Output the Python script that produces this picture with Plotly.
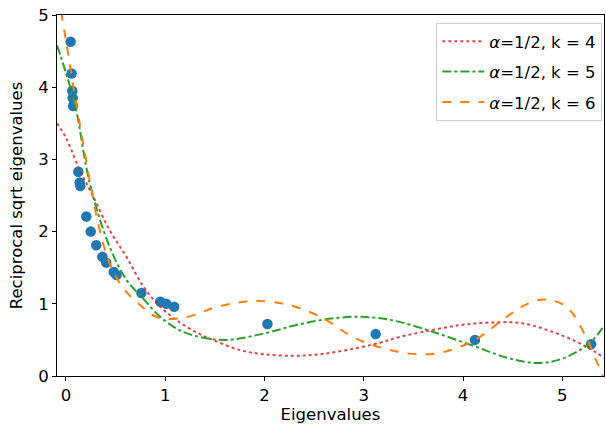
import plotly.graph_objects as go

# Scatter data: eigenvalues and reciprocal sqrt eigenvalues
eig_x = [0.047, 0.057, 0.064, 0.068, 0.072, 0.125, 0.139, 0.145, 0.205, 0.25, 0.305,
         0.367, 0.406, 0.482, 0.51, 0.76, 0.95, 1.01, 1.09, 2.03, 3.12, 4.12, 5.29]
eig_y = [4.63, 4.19, 3.95, 3.85, 3.74, 2.83, 2.68, 2.63, 2.21, 2.00, 1.81,
         1.65, 1.57, 1.44, 1.40, 1.15, 1.03, 1.00, 0.96, 0.72, 0.58, 0.50, 0.44]

# Fitted curves
k4_x = [-0.09, 0.0, 0.14, 0.27, 0.44, 0.61, 0.78, 0.95, 1.15, 1.35, 1.48, 1.75, 2.0, 2.3,
        2.55, 2.83, 3.16, 3.36, 3.7, 4.0, 4.27, 4.6, 5.0, 5.25, 5.42]
k4_y = [3.50, 3.30, 2.85, 2.50, 2.02, 1.65, 1.24, 0.96, 0.74, 0.58, 0.50, 0.36, 0.30, 0.28,
        0.30, 0.36, 0.46, 0.54, 0.64, 0.71, 0.74, 0.73, 0.56, 0.40, 0.25]
k5_x = [-0.09, 0.0, 0.1, 0.24, 0.44, 0.61, 0.78, 0.95, 1.15, 1.35, 1.62, 2.03, 2.3, 2.59,
        2.89, 3.1, 3.33, 3.7, 4.12, 4.45, 4.75, 5.0, 5.28, 5.42]
k5_y = [4.58, 4.20, 3.70, 2.67, 1.79, 1.33, 1.07, 0.82, 0.63, 0.54, 0.50, 0.60, 0.70, 0.78,
        0.82, 0.81, 0.76, 0.61, 0.41, 0.25, 0.18, 0.24, 0.46, 0.70]
k6_x = [-0.05, 0.0, 0.1, 0.24, 0.34, 0.44, 0.57, 0.75, 0.91, 1.08, 1.28, 1.5, 1.75, 1.95,
        2.26, 2.59, 2.89, 3.09, 3.33, 3.56, 3.8, 4.12, 4.44, 4.65, 4.82, 5.04, 5.24, 5.33, 5.41]
k6_y = [5.05, 4.65, 3.80, 2.71, 2.02, 1.56, 1.23, 0.98, 0.82, 0.79, 0.84, 0.95, 1.02, 1.04,
        0.98, 0.80, 0.54, 0.43, 0.34, 0.30, 0.33, 0.50, 0.82, 1.00, 1.06, 0.96, 0.54, 0.25, 0.0]

labels = ["<i>α</i>=1/2, k = 4", "<i>α</i>=1/2, k = 5", "<i>α</i>=1/2, k = 6"]

fig = go.Figure()
fig.add_trace(go.Scatter(x=eig_x, y=eig_y, mode="markers", showlegend=False,
                         marker=dict(color="#1f77b4", size=10.5, line=dict(width=0))))
fig.add_trace(go.Scatter(x=k4_x, y=k4_y, mode="lines", name=labels[0], line_shape="spline",
                         legendgroup="a",
                         line=dict(color="rgba(214,39,40,0.85)", width=2, dash="dot")))
fig.add_trace(go.Scatter(x=k5_x, y=k5_y, mode="lines", name=labels[1], line_shape="spline",
                         legendgroup="b",
                         line=dict(color="#2ca02c", width=2, dash="dashdot")))
fig.add_trace(go.Scatter(x=k6_x, y=k6_y, mode="lines", name=labels[2], line_shape="spline",
                         legendgroup="c",
                         line=dict(color="#ff7f0e", width=2, dash="dash")))

axis_common = dict(showline=True, linecolor="black", linewidth=1, mirror=True,
                   ticks="outside", ticklen=4, tickcolor="black", showgrid=False,
                   zeroline=False, tickfont=dict(size=16.5, color="black"))
fig.update_layout(
    width=606, height=430,
    margin=dict(l=57, r=2, t=15, b=54),
    plot_bgcolor="white", paper_bgcolor="white",
    font=dict(family="DejaVu Sans", size=16.5, color="black"),
    xaxis=dict(range=[-0.09, 5.42], tickvals=[0, 1, 2, 3, 4, 5],
               title=dict(text="Eigenvalues", standoff=2, font=dict(size=16.5)), **axis_common),
    yaxis=dict(range=[0, 5], tickvals=[0, 1, 2, 3, 4, 5],
               title=dict(text="Reciprocal sqrt eigenvalues", standoff=11, font=dict(size=16.5)), **axis_common),
    legend=dict(x=0.997, y=0.978, xanchor="right", yanchor="top", bgcolor="white",
                bordercolor="#cccccc", borderwidth=1, font=dict(size=16.5),
                tracegroupgap=6, itemwidth=42, traceorder="grouped"),
)
fig.write_html("out.html")
